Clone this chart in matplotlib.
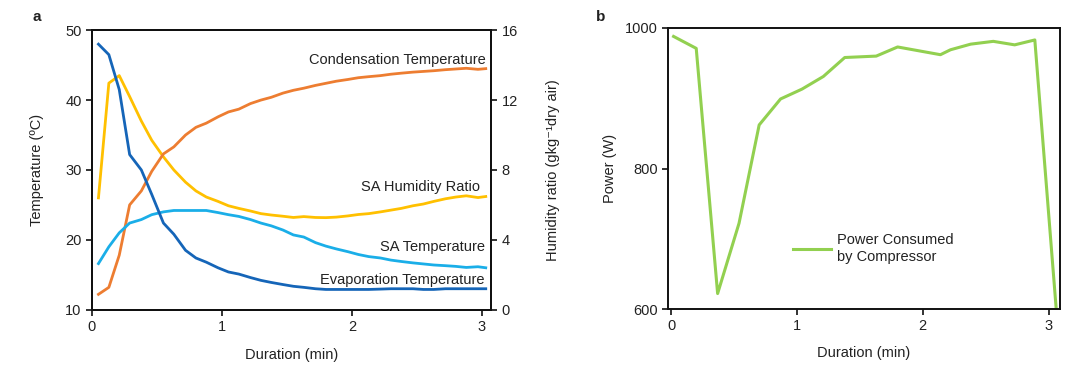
import matplotlib
matplotlib.use("Agg")
import matplotlib.pyplot as plt

plt.rcParams['font.family'] = ['Liberation Sans', 'DejaVu Sans']
plt.rcParams['font.size'] = 10

# ---------------- Panel a data ----------------
time_a = [0.05, 0.13, 0.21, 0.29, 0.38, 0.46, 0.55, 0.63, 0.72, 0.80, 0.88, 0.97,
          1.05, 1.13, 1.22, 1.30, 1.38, 1.47, 1.55, 1.63, 1.72, 1.80, 1.88, 1.97,
          2.05, 2.13, 2.22, 2.30, 2.38, 2.47, 2.55, 2.63, 2.72, 2.80, 2.88, 2.97, 3.03]

evap_temp = [48.0, 46.5, 41.5, 32.2, 30.0, 26.5, 22.4, 20.8, 18.5, 17.4, 16.8, 16.0,
             15.4, 15.1, 14.6, 14.2, 13.9, 13.6, 13.35, 13.2, 13.0, 12.9, 12.9, 12.9,
             12.9, 12.9, 12.95, 13.0, 13.0, 13.0, 12.9, 12.9, 13.0, 13.0, 13.0, 13.0, 13.0]

cond_temp = [12.2, 13.2, 17.8, 25.0, 27.0, 29.8, 32.3, 33.3, 35.0, 36.1, 36.7, 37.6,
             38.3, 38.7, 39.5, 40.0, 40.4, 41.0, 41.4, 41.7, 42.1, 42.4, 42.7, 42.95,
             43.2, 43.35, 43.5, 43.7, 43.85, 44.0, 44.1, 44.2, 44.35, 44.45, 44.55, 44.4, 44.5]

sa_temp = [16.6, 19.0, 21.0, 22.4, 22.9, 23.6, 24.0, 24.2, 24.2, 24.2, 24.2, 23.9,
           23.6, 23.35, 22.9, 22.4, 22.0, 21.4, 20.7, 20.4, 19.6, 19.1, 18.7, 18.3,
           17.9, 17.6, 17.4, 17.1, 16.9, 16.7, 16.55, 16.4, 16.3, 16.2, 16.05, 16.15, 16.0]

sa_humidity = [6.4, 12.97, 13.4, 12.2, 10.8, 9.7, 8.75, 8.0, 7.3, 6.8, 6.45, 6.2,
               5.95, 5.8, 5.65, 5.5, 5.42, 5.35, 5.28, 5.33, 5.28, 5.27, 5.3, 5.37,
               5.45, 5.5, 5.6, 5.7, 5.8, 5.95, 6.05, 6.2, 6.35, 6.45, 6.52, 6.42, 6.48]

# ---------------- Panel b data ----------------
time_b = [0.02, 0.20, 0.37, 0.54, 0.70, 0.87, 1.04, 1.21, 1.38, 1.63, 1.80, 2.14,
          2.22, 2.38, 2.56, 2.73, 2.89, 3.06]
power = [988, 971, 622, 722, 862, 899, 913, 931, 958, 960, 973, 962,
         969, 977, 981, 976, 983, 600]

temp_ticks = [10, 20, 30, 40, 50]
hum_ticks = [0, 4, 8, 12, 16]
power_ticks = [600, 800, 1000]
dur_ticks = [0, 1, 2, 3]

C_EVAP = '#1565B8'
C_COND = '#ED7D31'
C_SAT = '#1AAEE8'
C_HUM = '#FFC000'
C_POW = '#92D050'
TXT = '#222222'

fig = plt.figure(figsize=(10.68, 3.66), dpi=100)

def style(ax):
    for s in ['left', 'right', 'top', 'bottom']:
        ax.spines[s].set_linewidth(1.4)
        ax.spines[s].set_color('#111111')
    ax.tick_params(direction='out', length=4, width=1.2, colors='#111111',
                   labelcolor=TXT, labelsize=10.5)

# ---------- Panel a ----------
ax = fig.add_axes([0.0861, 0.1538, 0.3736, 0.7637])
ax2 = ax.twinx()
style(ax)
style(ax2)
lw = 2.0
ax.plot(time_a, cond_temp, color=C_COND, lw=lw)
ax2.plot(time_a, sa_humidity, color=C_HUM, lw=lw)
ax.plot(time_a, sa_temp, color=C_SAT, lw=lw)
ax.plot(time_a, evap_temp, color=C_EVAP, lw=lw)
ax.set_zorder(ax2.get_zorder() + 1)
ax.patch.set_visible(False)

ax.set_xlim(0, 3.07)
ax.set_ylim(10, 50)
ax2.set_ylim(0, 16)
ax.set_xticks(dur_ticks)
ax.set_yticks(temp_ticks)
ax2.set_yticks(hum_ticks)
ax.set_xlabel('Duration (min)', color=TXT, fontsize=10.5)
ax.set_ylabel('Temperature (ºC)', color=TXT, fontsize=10.5)
ax2.set_ylabel('Humidity ratio (gkg⁻¹dry air)', color=TXT, fontsize=10.5)
ax.xaxis.set_label_coords(0.5, -0.137)
ax.yaxis.set_label_coords(-0.12, 0.5)
ax2.yaxis.set_label_coords(1.138, 0.5)

ax.text(0.987, 0.893, 'Condensation Temperature', transform=ax.transAxes,
        ha='right', va='center', color=TXT, fontsize=10.5)
ax.text(0.972, 0.44, 'SA Humidity Ratio', transform=ax.transAxes,
        ha='right', va='center', color=TXT, fontsize=10.5)
ax.text(0.985, 0.225, 'SA Temperature', transform=ax.transAxes,
        ha='right', va='center', color=TXT, fontsize=10.5)
ax.text(0.985, 0.106, 'Evaporation Temperature', transform=ax.transAxes,
        ha='right', va='center', color=TXT, fontsize=10.5)

# ---------- Panel b ----------
bx = fig.add_axes([0.6255, 0.1557, 0.367, 0.7678])
style(bx)
bx.plot(time_b, power, color=C_POW, lw=2.2, label='Power Consumed\nby Compressor')
bx.set_xlim(-0.024, 3.09)
bx.set_ylim(600, 1000)
bx.set_xticks(dur_ticks)
bx.set_yticks(power_ticks)
bx.set_xlabel('Duration (min)', color=TXT, fontsize=10.5)
bx.set_ylabel('Power (W)', color=TXT, fontsize=10.5)
bx.xaxis.set_label_coords(0.5, -0.132)
bx.yaxis.set_label_coords(-0.13, 0.5)
leg = bx.legend(loc='upper left', bbox_to_anchor=(0.32, 0.27), frameon=False,
                borderpad=0, borderaxespad=0, handlelength=2.6, handletextpad=0.4,
                fontsize=10.5, labelspacing=0)
for t in leg.get_texts():
    t.set_color(TXT)
    t.set_linespacing(1.3)

fig.text(0.030, 0.953, 'a', fontsize=11, fontweight='bold', color=TXT, ha='left', va='center')
fig.text(0.558, 0.953, 'b', fontsize=11, fontweight='bold', color=TXT, ha='left', va='center')

fig.savefig('out.png', dpi=100)
